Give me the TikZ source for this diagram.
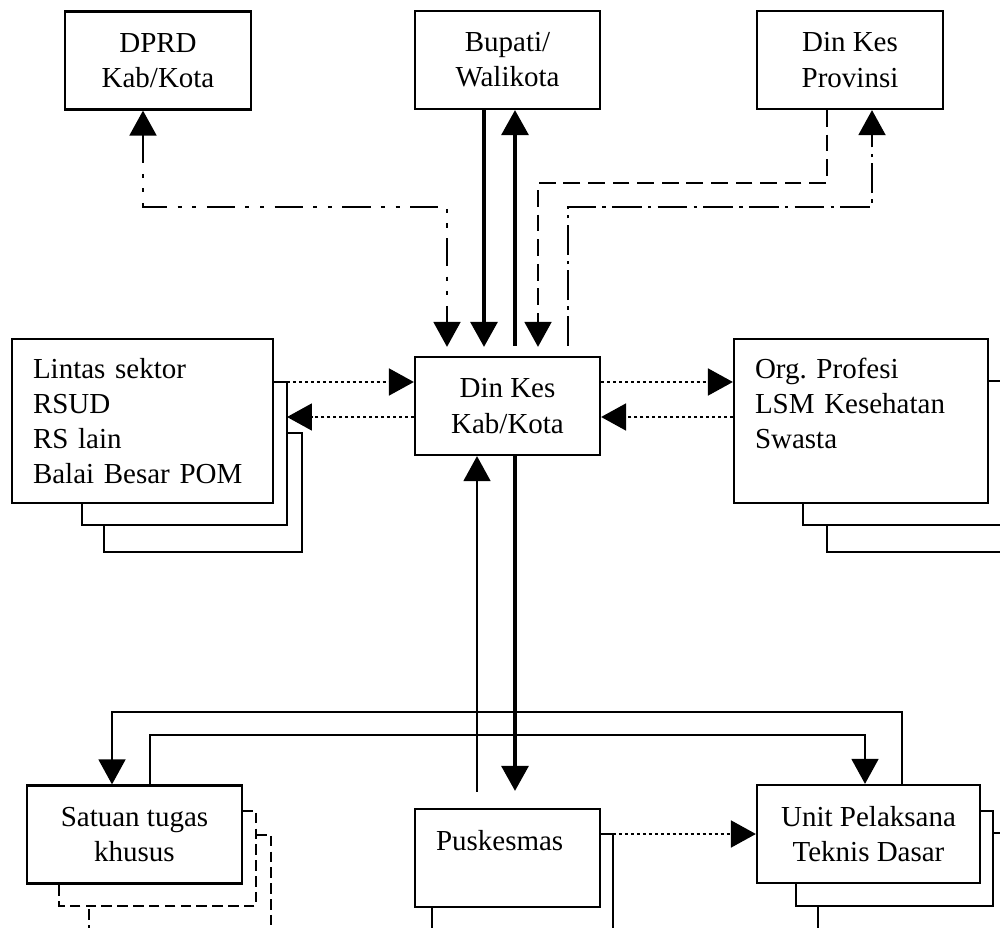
\documentclass[tikz,border=0pt]{standalone}
\usepackage{fontspec}
\setmainfont{Liberation Serif}
\usepackage{tikz}
\usetikzlibrary{arrows.meta, positioning, calc}
\frenchspacing

\begin{document}
\begin{tikzpicture}[x=0.02cm, y=-0.02cm,
    >={Triangle[length=0.5cm, width=0.54cm]},
    box/.style={draw, line width=1.3pt, minimum width=3.7cm, minimum height=1.96cm,
      inner sep=0pt, align=center, font=\fontsize{16.5}{20}\selectfont},
    listbox/.style={box, align=left, inner xsep=0.42cm},
    shadowline/.style={line width=0.95pt},
    dashshadow/.style={line width=1.7pt, dash pattern=on 6pt off 3pt},
    thickline/.style={line width=1.8pt},
    thinline/.style={line width=0.95pt},
    dotline/.style={line width=1.1pt, dash pattern=on 1.9pt off 1.5pt},
    dashline/.style={line width=1.1pt, dash pattern=on 9.5pt off 4.5pt},
    dashdotline/.style={line width=1.1pt, dash pattern=on 17pt off 3.5pt on 2pt off 3.5pt},
    dddline/.style={line width=1.1pt, dash pattern=on 16pt off 6pt on 2.3pt off 6pt on 2.3pt off 6pt}]
  \clip (0,0) rectangle (1000,928);
  \fill[white] (0,0) rectangle (1000,928);

  % top row
  \node[box, minimum width=3.72cm] (dprd) at (158,60.5) {DPRD\\Kab/Kota};
  \node[box] (bupati) at (507.5,60) {Bupati/\\Walikota};
  \node[box, minimum width=3.72cm] (prov) at (850,60) {Din Kes\\Provinsi};

  % middle row
  \node[box] (dinkes) at (507.5,406) {Din Kes\\Kab/Kota};
  \node[listbox, text width=4.38cm, minimum height=3.28cm] (lintas) at (142.5,421)
    {Lintas sektor\\RSUD\\RS lain\\Balai Besar POM};
  \node[listbox, text width=4.24cm, minimum height=3.28cm] (org) at (861,421)
    {Org. Profesi\\LSM Kesehatan\\Swasta\\\mbox{}};

  % bottom row
  \node[box, minimum width=4.3cm] (satgas) at (134.5,834.5) {Satuan tugas\\khusus};
  \node[listbox, text width=2.86cm] (pkm) at (507.5,858) {Puskesmas\\\mbox{}};
  \node[box, minimum width=4.46cm] (upt) at (868.5,834) {Unit Pelaksana\\Teknis Dasar};

  % stacked shadows
  \draw[shadowline] (273,382) -- (287,382) -- (287,525) -- (82,525) -- (82,503);
  \draw[shadowline] (287,433) -- (302,433) -- (302,552) -- (104,552) -- (104,525);
  \draw[shadowline] (988,381) -- (1003,381) -- (1003,525) -- (803,525) -- (803,503);
  \draw[shadowline] (1003,433) -- (1018,433) -- (1018,552) -- (827,552) -- (827,525);
  \draw[dashshadow] (242,811) -- (256,811) -- (256,906) -- (59,906) -- (59,884);
  \draw[dashshadow] (256,835) -- (271,835) -- (271,945) -- (89,945) -- (89,906);
  \draw[shadowline] (600,834) -- (613,834) -- (613,945) -- (432,945) -- (432,907);
  \draw[shadowline] (980,811) -- (993,811) -- (993,906) -- (796,906) -- (796,883);
  \draw[shadowline] (993,833) -- (1008,833) -- (1008,945) -- (818,945) -- (818,906);

  \coordinate (c1) at (143,207);
  \coordinate (c2) at (447,207);
  \coordinate (c3) at (827,183);
  \coordinate (c4) at (538,183);
  \coordinate (c5) at (568,207);
  \coordinate (c6) at (872,207);
  \coordinate (l1) at (287,382);
  \coordinate (l2) at (287,417);
  \coordinate (b1) at (902,712);
  \coordinate (b2) at (112,712);
  \coordinate (b3) at (150,735);
  \coordinate (b4) at (865,735);
  \coordinate (p1) at (613,834);

  % upward links
  \draw[dddline, <->, shorten >=0.18cm] (dprd.south -| c1) -- (c1) -- (c2) -- (dinkes.north -| c2);
  \draw[thickline, ->, shorten >=0.18cm] ($(bupati.south)+(-23.5,0)$) -- ($(dinkes.north)+(-23.5,0)$);
  \draw[thickline, ->, shorten <=0.2cm] ($(dinkes.north)+(7.5,0)$) -- ($(bupati.south)+(7.5,0)$);
  \draw[dashline, ->, shorten >=0.18cm] (prov.south -| c3) -- (c3) -- (c4) -- (dinkes.north -| c4);
  \draw[dashdotline, ->, shorten <=0.2cm] (dinkes.north -| c5) -- (c5) -- (c6) -- (prov.south -| c6);

  % side links
  \draw[dotline, ->] (l1) -- (dinkes.west |- l1);
  \draw[dotline, ->] (dinkes.west |- l2) -- (l2);
  \draw[dotline, ->] (dinkes.east |- l1) -- (org.west |- l1);
  \draw[dotline, ->] (org.west |- l2) -- (dinkes.east |- l2);

  % downward links
  \draw[thinline, ->, shorten <=0.32cm] ($(pkm.north)+(-30.5,0)$) -- ($(dinkes.south)+(-30.5,0)$);
  \draw[thickline, ->, shorten >=0.34cm] ($(dinkes.south)+(7.5,0)$) -- ($(pkm.north)+(7.5,0)$);
  \draw[thinline, ->] (upt.north -| b1) -- (b1) -- (b2) -- (satgas.north -| b2);
  \draw[thinline, ->] (satgas.north -| b3) -- (b3) -- (b4) -- (upt.north -| b4);
  \draw[dotline, ->] (p1) -- (upt.west |- p1);
\end{tikzpicture}
\end{document}
